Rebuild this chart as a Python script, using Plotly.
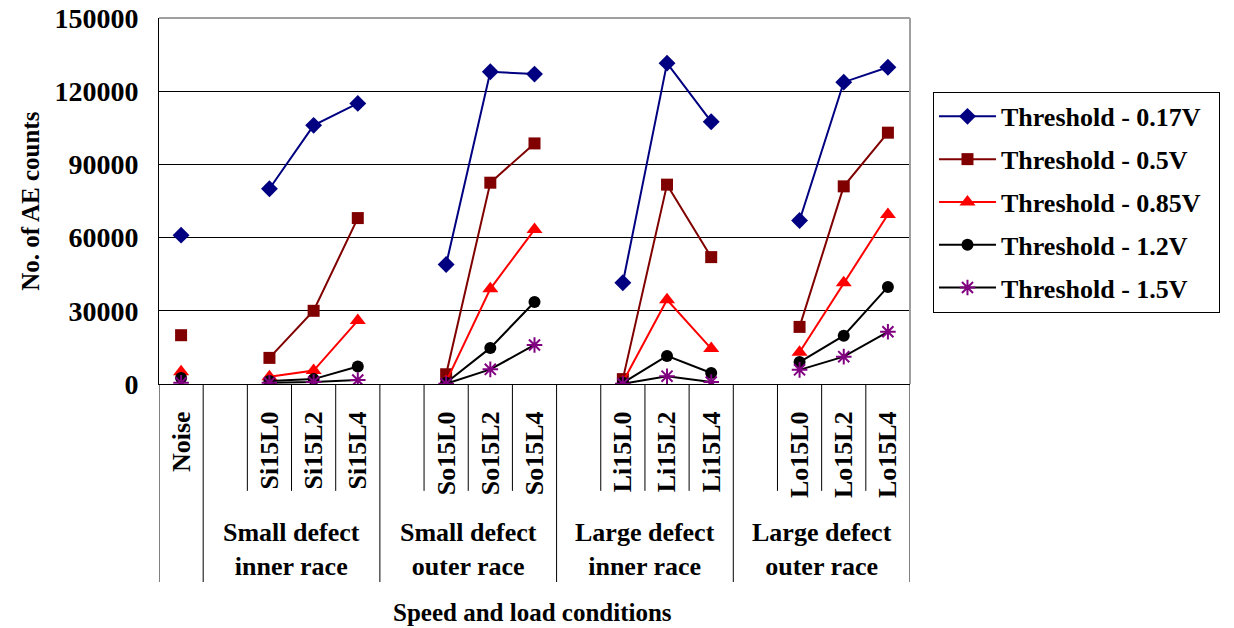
import plotly.graph_objects as go

# categorias del eje x (los huecos separan los grupos)
categories = ["Noise", "", "Si15L0", "Si15L2", "Si15L4", "", "So15L0", "So15L2", "So15L4",
              "", "Li15L0", "Li15L2", "Li15L4", "", "Lo15L0", "Lo15L2", "Lo15L4"]
groups = ["Small defect<br>inner race", "Small defect<br>outer race",
          "Large defect<br>inner race", "Large defect<br>outer race"]

# numero de cuentas AE por umbral
t017 = [61000, None, 80000, 106000, 115000, None, 49000, 128000, 127000,
        None, 41500, 131500, 107500, None, 67000, 123700, 129800]
t05 = [20000, None, 10700, 30000, 68000, None, 4000, 82500, 98600,
       None, 2000, 81700, 52000, None, 23400, 81000, 103000]
t085 = [5000, None, 3000, 5500, 26000, None, 1000, 39000, 63300,
        None, 800, 34500, 14500, None, 13000, 41500, 69500]
t12 = [2500, None, 1200, 2000, 7200, None, 500, 14800, 33600,
       None, 500, 11500, 4500, None, 9000, 19800, 39800]
t15 = [500, None, 500, 800, 1600, None, 100, 6000, 16000,
       None, 100, 3200, 800, None, 5800, 11200, 21400]

x = list(range(len(categories)))
FONT = "Liberation Serif"
NB = "\u00a0\u00a0"  # un poco de aire a la derecha de la leyenda

fig = go.Figure()

series = [
    ("Threshold - 0.17V", t017, "#000080", "#000080", "diamond", 13),
    ("Threshold - 0.5V", t05, "#800000", "#800000", "square", 12),
    ("Threshold - 0.85V", t085, "#FF0000", "#FF0000", "triangle-up", 14),
    ("Threshold - 1.2V", t12, "#000000", "#000000", "circle", 12),
    ("Threshold - 1.5V", t15, "#000000", "#800080", "asterisk-open", 13),
]
for i, (name, vals, lc, mc, sym, sz) in enumerate(series):
    marker = dict(symbol=sym, size=sz, color=mc)
    if sym == "asterisk-open":
        marker["line"] = dict(color=mc, width=2)
    fig.add_trace(go.Scatter(x=x, y=vals, mode="lines+markers", name=name + NB,
                             legendgroup=str(i), connectgaps=False,
                             line=dict(color=lc, width=2), marker=marker))

# lineas separadoras bajo el eje x
short_y, long_y = -0.292, -0.541
long_edges = [-0.5, 0.5, 4.5, 8.5, 12.5, 16.5]
for e in [k - 0.5 for k in range(len(categories) + 1)]:
    fig.add_shape(type="line", xref="x", yref="paper", x0=e, x1=e, y0=0,
                  y1=long_y if e in long_edges else short_y,
                  line=dict(color="#000000", width=1))

# borde superior y derecho gris
fig.add_shape(type="line", xref="paper", yref="paper", x0=0, x1=1, y0=1, y1=1,
              line=dict(color="#A0A0A0", width=2))
fig.add_shape(type="line", xref="paper", yref="paper", x0=1, x1=1, y0=0, y1=1,
              line=dict(color="#A0A0A0", width=2))

for j, g in enumerate(groups):
    fig.add_annotation(x=2.5 + 4 * j, y=-0.452, xref="x", yref="paper", text=g,
                       xanchor="center", yanchor="middle", showarrow=False,
                       font=dict(family=FONT, size=26, weight="bold"))

fig.add_annotation(x=0.498, y=-0.623, xref="paper", yref="paper",
                   text="Speed and load conditions", showarrow=False,
                   xanchor="center", yanchor="middle",
                   font=dict(family=FONT, size=25, weight="bold"))
fig.add_annotation(x=-0.172, y=0.5, xref="paper", yref="paper",
                   text="No. of AE counts", textangle=-90, showarrow=False,
                   xanchor="center", yanchor="middle",
                   font=dict(family=FONT, size=25, weight="bold"))

fig.update_layout(
    width=1234, height=628,
    margin=dict(l=159, r=324, t=18, b=244),
    paper_bgcolor="white", plot_bgcolor="white",
    font=dict(family=FONT, color="black"),
    legend=dict(x=1.0306, y=0.798, xanchor="left", yanchor="top",
                bordercolor="black", borderwidth=1, itemwidth=57,
                tracegroupgap=6, font=dict(family=FONT, size=26, weight="bold")),
)
fig.update_xaxes(
    range=[-0.5, 16.5], tickvals=x, ticktext=categories, tickangle=-90,
    tickfont=dict(family=FONT, size=26, weight="bold"), ticklabelstandoff=16,
    showline=True, linecolor="black", linewidth=1, showgrid=False, zeroline=False,
    ticks="", automargin=False
)
fig.update_yaxes(
    range=[0, 150000], dtick=30000, showline=True, linecolor="black", linewidth=1,
    gridcolor="#000000", gridwidth=1, zeroline=False,
    tickfont=dict(family=FONT, size=28, weight="bold"), ticklabelstandoff=14,
    tickformat="d", automargin=False, ticklabeloverflow="allow"
)

# quitar el margen del body para que el grafico ocupe la ventana entera
fig.write_html("out.html", config={"displayModeBar": False},
               post_script="document.body.style.margin='0';")
